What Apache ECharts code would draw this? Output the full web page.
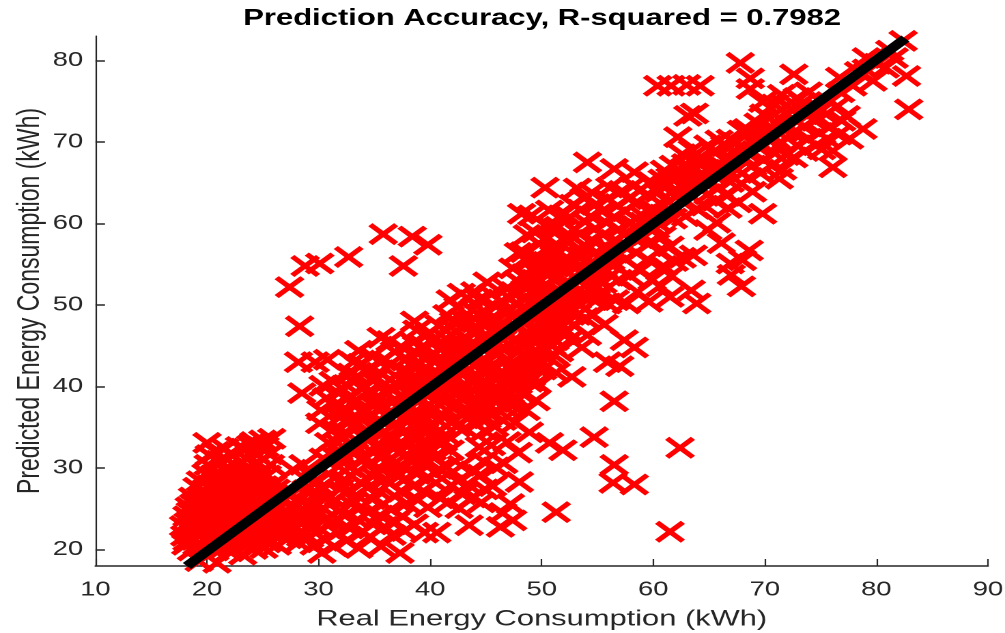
<!DOCTYPE html>
<html><head><meta charset="utf-8">
<style>html,body{margin:0;padding:0;background:#fff;overflow:hidden}
#c{width:736px;height:633px;transform:scale(1.3655,1);transform-origin:0 0}</style>
<script src="https://cdn.jsdelivr.net/npm/echarts@6/dist/echarts.min.js"></script>
</head><body><div id="c"></div>
<script>
const xTicks=[10,20,30,40,50,60,70,80,90];
const yTicks=[20,30,40,50,60,70,80];
const fitLine=[[18.2,18],[82.6,82.7]];
const outliers=[[27.4,52.2],[28.3,47.4],[28.8,54.8],[30.1,55.1],[32.7,55.9],[35.8,58.7],[38.4,58.4],[39.8,57.4],[37.6,54.8],
[28.2,43],[29.7,43],[30.8,43.3],[28.5,39.2],[30.1,35.5],
[48.9,34.4],[50.7,33.1],[51.9,32.2],[54.7,33.8],[56.5,30.4],[56.4,28.2],[58.3,28],[47.9,31.9],[48,28.3],[62.4,32.5],[61.5,22.2],[51.3,24.6],[46.5,24.5],[46.3,22.8],[56.5,38.2],[52.7,41.2],[51.3,41.7],[49.5,38.3],[55.9,43],[57,42.5],[58.3,44.8],[57.4,45.7],[54.1,46.3],
[60.4,76.9],[61.6,76.9],[63,77],[64.2,76.9],[63.7,73.5],[63.1,73.2],[67.8,79.7],[68.7,77.8],[68.7,76.5],[72.6,78.3],[82.4,82.4],[82.7,78.1],[82.9,74],[69.8,74.9],[76.1,66.9],[78.8,71.6],[77.6,70.4],[79.7,77.5],[79.1,80.3],[81.6,80.3],[76.7,77.9],[69.8,61.2],[68.6,56.7],[66.9,55.1],[68,55.5],[67,53.7],[67.9,52.3],[66.1,57.6],[64.9,59.2],[63.9,50.2],[63.4,51.8],[61.5,51],[71.3,65.5],[50.3,64.4],[54.1,67.5],[56.5,66.7],[58.3,66.3],[61,66.5],[62.2,70.6],[48.2,61.2],[50.7,61.6],[53.2,64.3]];
const lowBlob=[[18.1,20.6],[18.0,21.7],[17.9,22.9],[18.2,24.1],[18.4,25.2],[18.7,26.4],[19.1,27.6],[19.4,28.4],
[18.6,19.9],[18.9,21.2],[18.7,22.4],[19.0,23.5],[19.2,24.7],[19.5,25.9],[19.8,26.8],[19.9,29.3],
[19.3,18.6],[19.6,20.3],[19.4,21.8],[19.9,22.9],[20.0,24.2],[20.2,25.3],[20.4,26.5],[20.3,27.9],[20.6,29.1],[20.1,30.4],[20.2,31.6],[20.0,33.1],
[20.9,18.4],[20.7,19.9],[21.0,21.2],[20.8,22.6],[21.1,23.8],[21.3,24.9],[21.0,26.1],[21.4,27.3],[21.2,28.6],[21.5,29.8],[21.1,30.9],[21.6,32.4],[20.8,32.0],
[22.0,19.8],[22.2,21.1],[21.9,22.3],[22.3,23.4],[22.1,24.6],[22.4,25.7],[22.0,26.9],[22.5,28.1],[22.2,29.2],[22.6,30.3],[22.3,31.5],[22.9,32.6],
[23.2,19.4],[23.4,20.6],[23.1,21.9],[23.5,23.1],[23.2,24.3],[23.6,25.4],[23.3,26.6],[23.7,27.8],[23.4,28.9],[23.8,30.1],[23.5,31.2],[23.9,32.8],[23.3,32.4],
[24.3,21.2],[24.6,22.4],[24.2,23.6],[24.7,24.8],[24.4,25.9],[24.8,27.1],[24.5,28.3],[24.9,29.4],[24.6,30.6],[24.3,31.9],[25.0,33.4],[24.2,33.2],
[25.4,20.9],[25.7,22.1],[25.3,23.3],[25.8,24.4],[25.5,25.6],[25.2,26.8],[25.9,27.9],[25.4,29.1],[25.7,30.4],[25.6,31.7],[25.8,33.6],[25.2,32.6],
[26.4,22.6],[26.7,23.8],[26.3,24.9],[26.6,26.2],[26.2,27.4],[26.5,21.8],[27.7,29.8],[28.6,30.4],[29.3,29.1],
[18.3,23.3],[18.8,25.6],[19.3,23.1],[20.5,20.8],[20.6,23.4],[21.6,20.5],[21.7,25.8],[22.7,22.6],[22.8,24.9],[22.9,27.2],[23.9,22.3],[23.9,26.1],[24.9,23.2],[25.0,25.3],[24.1,28.9],[21.8,28.4]];
const blobFill=[[18.2,21.1],[18.5,22.7],[18.5,24.6],[18.9,23.8],[19.1,20.6],[19.2,22.4],[19.4,24.1],[19.1,25.3],[19.6,26.4],[19.8,21.2],[19.7,23.6],[19.9,25.1],[20.2,21.6],[20.3,23.2],[20.4,24.7],[20.7,25.8],[20.7,27.2],[20.8,28.3],[20.8,21.4],[21.3,22.3],[21.4,23.2],[21.5,26.6],[21.6,24.1],[21.7,27.6],[21.7,21.6],[22.3,22.8],[22.4,24.2],[22.5,26.4],[22.3,27.6],[22.9,21.4],[22.9,23.9],[23.1,25.8],[23.4,22.7],[23.4,27.1],[23.6,24.6],[24.1,23.1],[24.2,24.9],[24.4,26.6],[24.9,24.1],[24.9,26.2],[25.4,24.6],[25.5,26.3],[25.9,25.2],
[23.1,28.3],[23.7,21.4],[24.3,27.7],[24.8,21.9],[25.1,27.8],[25.2,22.6],[25.9,23.2],[26.0,26.8],[26.9,22.9],[27.1,23.4],[27.7,24.1],[28.4,21.6],[28.9,23.6],[29.1,24.4],[26.3,20.6],[25.1,20.2],[24.2,20.1]];
const midBand=[[27.3,21.4],[27.6,22.7],[27.2,24.1],[27.8,25.2],[27.4,26.6],[28.2,20.9],[28.5,22.2],[28.1,23.5],[28.7,24.8],[28.3,26.1],[28.9,27.3],
[29.2,21.5],[29.6,20.6],[29.3,23.1],[29.8,24.3],[29.4,25.6],[29.9,26.9],[29.5,28.2],[30.3,19.6],[30.6,21.2],[30.2,22.5],[30.7,23.8],[30.4,25.1],[30.8,26.4],[30.3,27.7],[30.9,29.3],[30.4,31.2],[30.9,33.1],[30.2,37.1],[30.7,38.6],[30.4,40.1],
[31.4,20.4],[31.7,22.1],[31.3,23.4],[31.8,24.7],[31.5,26.1],[31.9,27.4],[31.4,28.8],[31.8,30.2],[31.3,31.6],[31.7,33.1],[31.4,34.8],[31.9,36.2],[31.5,37.8],[31.8,39.2],[31.3,40.6],
[32.5,21.1],[32.8,22.6],[32.4,24.2],[32.9,25.6],[32.6,27.1],[32.3,28.6],[32.8,30.1],[32.4,31.4],[32.9,32.9],[32.5,34.3],[32.9,35.8],[32.4,37.3],[32.8,38.7],[32.5,40.2],[32.9,41.6],[33.1,43],
[33.6,20.2],[33.9,22.2],[33.5,23.7],[33.8,25.2],[33.4,26.7],[33.9,28.1],[33.5,29.6],[33.8,31.1],[33.4,32.6],[33.9,34],[33.5,35.5],[33.8,37],[33.4,38.4],[33.9,39.9],[33.5,41.3],[33.8,42.8],[33.6,44.4],
[34.6,21.6],[34.9,23.1],[34.5,24.6],[34.8,26.2],[34.4,27.6],[34.9,29],[34.5,30.5],[34.8,32],[34.4,33.4],[34.9,34.9],[34.5,36.4],[34.8,37.8],[34.4,39.3],[34.9,40.7],[34.5,42.2],[34.8,43.7],
[35.6,20.4],[35.9,22.8],[35.5,24.2],[35.8,25.6],[35.4,27.2],[35.9,28.6],[35.5,30],[35.8,31.5],[35.4,33],[35.9,34.4],[35.5,35.9],[35.8,37.4],[35.4,38.8],[35.9,40.3],[35.5,41.7],[35.8,43.2],[35.6,46],
[36.6,21.8],[36.9,23.4],[36.5,24.9],[36.8,26.6],[36.4,28.2],[36.9,29.6],[36.5,31.1],[36.8,32.6],[36.4,34],[36.9,35.5],[36.5,37],[36.8,38.4],[36.4,39.9],[36.9,41.3],[36.5,42.8],[36.8,44.3],[36.4,45.6],
[37.3,19.6],[37.7,22.3],[37.5,24.1],[37.9,25.7],[37.4,27.1],[37.8,28.7],[37.5,30.2],[37.9,31.7],[37.4,33.2],[37.8,34.6],[37.5,36.1],[37.9,37.6],[37.4,39],[37.8,40.5],[37.5,42],[37.9,43.4],[37.4,44.9],[38.6,48],
[38.6,23.1],[38.9,26.1],[38.5,27.8],[38.8,29.3],[38.4,30.8],[38.9,32.3],[38.5,33.7],[38.8,35.2],[38.4,36.7],[38.9,38.1],[38.5,39.6],[38.8,41],[38.4,42.5],[38.9,44],[38.5,45.4],[38.8,46.9],
[39.5,22.1],[39.8,25.2],[39.4,27.2],[39.9,28.8],[39.5,30.4],[39.8,31.8],[39.4,33.3],[39.9,34.8],[39.5,36.2],[39.8,37.7],[39.4,39.2],[39.9,40.6],[39.5,42.1],[39.8,43.6],[39.4,45],[39.9,46.5],
[40.6,22.1],[40.9,26.3],[40.5,28.2],[40.8,29.9],[40.4,31.4],[40.9,32.9],[40.5,34.3],[40.8,35.8],[40.4,37.3],[40.9,38.7],[40.5,40.2],[40.8,41.6],[40.4,43.1],[40.9,44.6],[40.5,46],[40.8,47.5],
[41.6,25.8],[41.9,27.9],[41.5,30.1],[41.8,32.2],[41.4,34.1],[41.9,35.6],[41.5,37.1],[41.8,38.6],[41.4,40],[41.9,41.5],[41.5,43],[41.8,44.4],[41.4,45.9],[41.9,47.3],[41.5,48.8],[41.8,50.6],
[42.6,25.1],[42.9,26.8],[42.5,28.4],[42.8,30.3],[42.4,35.1],[42.9,36.5],[42.5,38],[42.8,39.5],[42.4,41],[42.9,42.4],[42.5,43.9],[42.8,45.3],[42.4,46.8],[42.9,48.3],[42.5,49.7],[42.8,51.4],
[43.5,23],[43.8,26.4],[43.4,28],[43.9,29.6],[43.5,36.3],[43.8,37.7],[43.4,39.2],[43.9,40.6],[43.5,42.1],[43.8,43.6],[43.4,45],[43.9,46.5],[43.5,48],[43.8,49.4],[43.4,50.8],[44,51.6]];
const upperBand=[[44.6,25.8],[44.9,27.4],[44.5,29.2],[44.8,30.8],[44.4,32.6],[44.9,34.6],[44.5,36.1],[44.8,37.6],[44.4,39],[44.9,40.5],[44.5,42],[44.8,43.4],[44.4,44.9],[44.9,46.3],[44.5,47.8],[44.8,49.3],[44.4,50.7],[45.1,52.8],
[45.6,27.8],[45.9,30.1],[45.5,32.8],[45.8,35.1],[45.4,36.6],[45.9,38.1],[45.5,39.6],[45.8,41],[45.4,42.5],[45.9,44],[45.5,45.4],[45.8,46.9],[45.4,48.3],[45.9,49.8],[45.5,51.3],
[46.6,30.6],[46.9,33.2],[46.5,35.9],[46.8,37.4],[46.4,38.8],[46.9,40.3],[46.5,41.8],[46.8,43.2],[46.4,44.7],[46.9,46.2],[46.5,47.6],[46.8,49.1],[46.4,50.5],[46.9,52],[47.2,25.6],[47.4,23.6],
[47.6,35.6],[47.9,38.4],[47.5,39.9],[47.8,41.3],[47.4,42.8],[47.9,44.3],[47.5,45.7],[47.8,47.2],[47.4,48.7],[47.9,50.1],[47.5,51.6],[47.8,53],[47.4,54.5],[47.9,56.4],
[48.6,37.1],[48.9,40.6],[48.5,42.1],[48.8,43.6],[48.4,45],[48.9,46.5],[48.5,48],[48.8,49.4],[48.4,50.9],[48.9,52.3],[48.5,53.8],[48.8,55.3],[48.4,56.5],[48.7,58.6],[49.1,61],
[49.6,40.4],[49.9,42.9],[49.5,44.3],[49.8,45.8],[49.4,47.3],[49.9,48.7],[49.5,50.2],[49.8,51.6],[49.4,53.1],[49.9,54.6],[49.5,56],[49.8,57.5],[49.4,58.9],
[50.6,43.6],[50.9,45.1],[50.5,46.6],[50.8,48],[50.4,49.5],[50.9,51],[50.5,52.4],[50.8,53.9],[50.4,55.3],[50.9,56.8],[50.5,58.3],[50.8,59.6],
[51.6,44.3],[51.9,46.4],[51.5,47.9],[51.8,49.4],[51.4,50.8],[51.9,52.3],[51.5,53.7],[51.8,55.2],[51.4,56.7],[51.9,58.1],[51.5,59.6],[51.8,61],
[52.6,45.8],[52.9,47.6],[52.5,49.1],[52.8,50.6],[52.4,52],[52.9,53.5],[52.5,55],[52.8,56.4],[52.4,57.9],[52.9,59.3],[52.5,60.8],[52.8,62.3],
[53.6,44.8],[53.9,48.4],[53.5,50],[53.8,51.4],[53.4,52.9],[53.9,54.4],[53.5,55.8],[53.8,57.3],[53.4,58.7],[53.9,60.2],[53.5,61.7],[53.8,63.1],
[54.6,48.8],[54.9,50.6],[54.5,52.1],[54.8,53.6],[54.4,55],[54.9,56.5],[54.5,58],[54.8,59.4],[54.4,60.9],[54.9,62.4],[54.5,63.8],
[55.6,47.6],[55.9,50.2],[55.5,52.7],[55.8,54.2],[55.4,55.7],[55.9,57.1],[55.5,58.6],[55.8,60.1],[55.4,61.5],[55.9,63],[56.1,64.4],
[56.6,50.6],[56.9,53.1],[56.5,54.9],[56.8,56.4],[56.4,57.8],[56.9,59.3],[56.5,60.8],[56.8,62.2],[57.2,64],
[57.6,50.2],[57.9,53.6],[57.5,55.6],[57.8,57.1],[57.4,58.6],[57.9,60],[57.5,61.5],[57.8,63],[58.2,64.6],
[58.6,51.6],[58.9,54.3],[58.5,56.4],[58.8,58.2],[58.4,59.7],[58.9,61.1],[58.5,62.6],[58.8,64.1],
[59.6,50.4],[59.9,53.1],[59.5,55.6],[59.8,57.8],[59.4,59.6],[59.9,61.8],[59.5,63.6],[59.8,65.1],
[60.6,52.3],[60.9,54.8],[60.5,56.6],[60.8,58.4],[60.4,60.1],[60.9,62.2],[60.5,63.9],[60.8,65.4],
[61.6,53.6],[61.9,55.4],[61.5,57.2],[61.8,60.6],[61.4,62.6],[61.9,64.1],[61.5,65.6],[61.8,67.1],
[62.6,55.8],[62.9,60.9],[62.5,62.8],[62.8,64.4],[62.4,65.9],[62.9,67.3],[62.6,68.5],
[63.6,56.1],[63.9,61.8],[63.5,63.3],[63.8,64.8],[63.4,66.3],[63.9,67.8],[63.5,69],
[64.6,62.2],[64.9,63.6],[64.5,65.1],[64.8,66.6],[64.4,68],[64.9,69.6],
[65.6,62.8],[65.9,64.4],[65.5,65.9],[65.8,67.3],[65.4,68.8],[65.9,70.2],[65.7,60.1],
[66.6,63.4],[66.9,65.1],[66.5,66.6],[66.8,68.1],[66.4,69.5],[66.9,70.3],[66.7,61.9],
[67.6,62.6],[67.9,64.9],[67.5,66.6],[67.8,68.4],[67.4,69.9],[67.9,71.4],
[68.6,65.6],[68.9,67.1],[68.5,68.6],[68.8,70.1],[68.4,71.6],[68.9,63.9],
[69.6,66.2],[69.9,67.8],[69.5,69.3],[69.8,70.8],[69.4,72.3],[69.9,73.4],
[70.6,67.1],[70.9,68.6],[70.5,70.1],[70.8,71.6],[70.4,72.9],[70.9,74.6],
[71.6,66.6],[71.9,68.4],[71.5,69.9],[71.8,71.4],[71.4,72.8],[71.9,74.4],[71.5,75.8],
[72.6,68.1],[72.9,69.6],[72.5,71.1],[72.8,72.6],[72.4,74.1],[72.9,75.4],
[73.6,68.9],[73.9,70.4],[73.5,71.9],[73.8,73.4],[73.4,74.8],[73.9,76.1],
[74.6,69.6],[74.9,71.1],[74.5,72.6],[74.8,74.1],[75.1,69.1],
[75.6,70.4],[75.9,71.9],[75.5,73.4],[75.8,74.9],[76.1,68.9],
[76.6,70.9],[76.9,72.6],[76.5,74.4],[76.8,76.1],[77.3,73.2],
[77.9,76.9],[78.4,78.6],[79.1,78.9],[80.1,79.6],[80.8,79.1],[81.2,81.2]];
const coreFill=[[33.2,31.8],[33.1,35.1],[34.2,36.9],[34.1,39.9],[35.2,32.6],[35.1,35.2],[35.2,38.1],[36.2,33.6],[36.1,36.4],[37.2,37.4],[37.1,40.2],[38.2,33.9],[38.1,36.1],[38.1,39.1],[39.2,36.6],[39.1,38.4],[39.2,40.1],
[40.1,35.1],[40.1,39.2],[40.2,41.1],[41.2,38.2],[41.1,40.6],[41.2,42.4],[42.2,39.1],[42.1,40.9],[42.2,42.8],[42.1,44.6],[43.2,40.2],[43.1,41.6],[43.1,44.3],[43.2,45.9],
[44.2,40.1],[44.1,41.4],[44.2,42.8],[44.1,47.1],[45.2,40.4],[45.1,41.8],[45.2,46.2],[45.1,47.6],[46.2,41.1],[46.2,44.1],[46.1,45.3],[46.1,48.2],[47.2,42.1],[47.2,45.1],[47.1,46.4],[47.1,49.4],[47.2,50.8],
[48.2,43.8],[48.1,45.2],[48.1,48.1],[48.2,49.6],[48.2,52.6],[49.2,45.6],[49.1,47.1],[49.2,51.4],[49.1,52.9],[49.2,54.3],[50.2,47.5],[50.2,50.4],[50.1,51.9],[50.1,54.8],[51.2,48.7],[51.2,51.6],[51.1,53.1],[51.1,56],
[52.2,49.8],[52.1,51.3],[52.1,54.2],[52.2,55.6],[53.2,51.7],[53.2,54.7],[53.1,56.1],[54.1,52.6],[54.2,54],[54.2,57],[55.2,54.4],[55.1,55.9],[56.1,55.2],[56.2,56.7],[57.2,57.4],[58.2,58.3],[59.1,60.1],[60.2,59.4],[61.1,61.1],[62.1,63.3],[63.2,65.4],[64.2,65.9],[65.2,66.2],[66.2,67],[67.2,68.9],[68.2,69.2],[70.2,71.1],[71.2,72.2],[72.2,71.9],[74.2,73.6],[75.1,73.9],
[32.1,33.6],[32.2,36.6],[33.1,40.6],[34.1,33.9],[34.2,31.2],[35.1,29.6],[35.1,41],[36.1,30.8],[36.2,39.1],[37.1,34.8],[37.2,31.9],[37.1,29],[38.1,31.1],[38.2,41.7],[39.1,33.8],[39.2,30.8],[39.1,42.9],[40.2,37.1],[40.2,32.2],[40.1,43.9],[41.2,33.3],[41.1,36.4],[41.1,44.7],[42.2,35.9],[42.1,37.6],[42.1,47.9],[43.1,34.9],[43.1,38.6],[43.2,37.1],[43.1,47.4],[44.1,35.4],[44.2,37.2],[44.1,38.3],[45.1,36.1],[45.2,37.8],[45.1,39.1],[46.2,38.4],[46.1,39.7],[47.1,37.9],[47.2,39.2],[47.1,40.6],[48.1,39.3],[48.2,40.9],[48.1,42.3],[49.1,41.3],[49.2,42.6],[49.1,44.1],[50.1,42.1],[50.2,44.6],[50.1,46.1],[51.1,43.9],[51.2,45.7],[51.1,47.2],[52.2,46.9],[52.1,48.3],[53.2,48.8],[53.1,50.3],[54.2,51.1],[55.2,51.4],[55.1,53],[56.2,53.6]];
const xMark='path://M14 0L50 36L86 0L100 14L64 50L100 86L86 100L50 64L14 100L0 86L36 50L0 14Z';
const axisInk='#262626';
const chart=echarts.init(document.getElementById('c'),null,{renderer:'canvas',devicePixelRatio:2});
const font='"Liberation Sans"';
chart.setOption({
 animation:false,backgroundColor:'#fff',
 title:{text:'Prediction Accuracy, R-squared = 0.7982',left:392,top:2,textAlign:'center',textStyle:{fontFamily:font,fontWeight:'bold',fontSize:22.7,color:'#000'}},
 grid:{left:69.9,top:36,width:653.6,height:530,containLabel:false,outerBoundsMode:'none'},
 xAxis:{type:'value',min:10,max:90,interval:10,splitLine:{show:false},nameMoveOverlap:false,
  axisLine:{onZero:false,lineStyle:{color:axisInk,width:1.5}},axisTick:{inside:true,length:7,lineStyle:{color:axisInk,width:1.1}},
  axisLabel:{color:axisInk,fontFamily:font,fontSize:20,margin:14,customValues:xTicks},
  name:'Real Energy Consumption (kWh)',nameLocation:'middle',nameGap:42,nameTextStyle:{fontFamily:font,fontSize:22.6,color:axisInk}},
 yAxis:{type:'value',min:18,max:83,splitLine:{show:false},nameMoveOverlap:false,
  axisLine:{onZero:false,lineStyle:{color:axisInk,width:1.1}},axisTick:{inside:true,length:7,lineStyle:{color:axisInk,width:1.5},customValues:yTicks},
  axisLabel:{color:axisInk,fontFamily:font,fontSize:20,margin:9,customValues:yTicks},
  name:'Predicted Energy Consumption (kWh)',nameLocation:'middle',nameGap:36,nameTextStyle:{fontFamily:font,fontSize:23,color:axisInk}},
 series:[
  {type:'scatter',data:[...lowBlob,...blobFill,...midBand,...upperBand,...coreFill,...outliers],symbol:xMark,symbolSize:22,itemStyle:{color:'#ff0000',opacity:1},large:false,z:2},
  {type:'line',data:fitLine,showSymbol:false,symbol:'none',lineStyle:{color:'#000',width:8.5,cap:'butt'},z:3,clip:false}
 ]
});
</script></body></html>
